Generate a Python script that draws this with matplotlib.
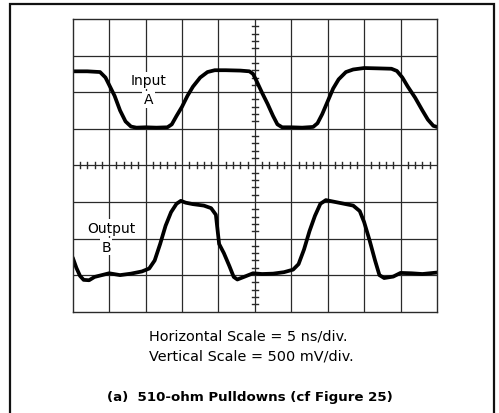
import matplotlib.pyplot as plt
from matplotlib.patches import Rectangle

# trace readings, in graticule divisions (x: 0-10, y: 0-8 from bottom)
input_x = [0, 0.4, 0.75, 0.9, 1.0, 1.15, 1.3, 1.45, 1.6, 1.75, 2.0, 2.3, 2.6, 2.72, 2.85,
           3.0, 3.15, 3.3, 3.5, 3.7, 3.9, 4.2, 4.6, 4.85, 4.95, 5.05, 5.2, 5.35, 5.5, 5.62,
           5.75, 6.0, 6.3, 6.6, 6.72, 6.85, 7.0, 7.15, 7.3, 7.5, 7.7, 8.0, 8.4, 8.75, 8.9,
           9.05, 9.2, 9.4, 9.6, 9.75, 9.9, 10.0]
input_y = [6.57, 6.57, 6.55, 6.4, 6.2, 5.9, 5.5, 5.2, 5.06, 5.03, 5.04, 5.03, 5.04, 5.12, 5.35,
           5.6, 5.9, 6.15, 6.4, 6.55, 6.6, 6.6, 6.59, 6.57, 6.5, 6.3, 5.98, 5.68, 5.35, 5.12,
           5.04, 5.04, 5.03, 5.05, 5.15, 5.4, 5.75, 6.1, 6.35, 6.55, 6.62, 6.66, 6.65, 6.64, 6.58,
           6.4, 6.15, 5.85, 5.5, 5.25, 5.08, 5.05]

output_x = [0, 0.1, 0.2, 0.3, 0.45, 0.6, 0.8, 1.0, 1.3, 1.6, 1.9, 2.1, 2.25, 2.4, 2.55, 2.7,
            2.85, 2.97, 3.1, 3.3, 3.6, 3.8, 3.93, 3.98, 4.02, 4.15, 4.3, 4.42, 4.52, 4.7, 4.95,
            5.2, 5.5, 5.8, 6.05, 6.2, 6.35, 6.5, 6.65, 6.8, 6.95, 7.1, 7.4, 7.7, 7.88, 8.0,
            8.15, 8.3, 8.42, 8.55, 8.8, 9.0, 9.3, 9.6, 10.0]
output_y = [1.48, 1.2, 0.98, 0.87, 0.86, 0.95, 1.0, 1.05, 1.0, 1.04, 1.1, 1.18, 1.4, 1.85, 2.35, 2.72,
            2.95, 3.03, 2.98, 2.94, 2.9, 2.83, 2.65, 2.2, 1.85, 1.6, 1.25, 0.95, 0.88, 0.95, 1.05,
            1.03, 1.04, 1.08, 1.15, 1.3, 1.7, 2.2, 2.62, 2.95, 3.05, 3.02, 2.96, 2.9, 2.75, 2.45,
            1.95, 1.4, 1.0, 0.92, 0.96, 1.06, 1.05, 1.03, 1.07]

scale_lines = ["Horizontal Scale = 5 ns/div.", "Vertical Scale = 500 mV/div."]
caption = "(a)  510-ohm Pulldowns (cf Figure 25)"

plt.rcParams["font.family"] = ["DejaVu Sans"]

fig = plt.figure(figsize=(4.99, 4.14), dpi=100)
fig.patches.append(Rectangle((10 / 499, -0.1), 484 / 499, 1.1 - 5 / 414,
                             transform=fig.transFigure, fill=False,
                             edgecolor="#111111", linewidth=1.6))

ax = fig.add_axes([0.1457, 0.2447, 0.730, 0.707])
ax.set_xlim(0, 10)
ax.set_ylim(0, 8)
ax.set_xticks([])
ax.set_yticks([])
for spine in ax.spines.values():
    spine.set_color("#2a2a2a")
    spine.set_linewidth(1.0)

# graticule
for gx in range(1, 10):
    ax.axvline(gx, color="#2a2a2a", linewidth=0.9)
for gy in range(1, 8):
    ax.axhline(gy, color="#2a2a2a", linewidth=0.9)

# minor ticks along the centre lines
for k in range(50):
    if k % 5 == 0:
        continue
    t = k * 0.2
    ax.plot([t, t], [3.92, 4.08], color="#2a2a2a", linewidth=1.0)
for k in range(40):
    if k % 5 == 0:
        continue
    t = k * 0.2
    ax.plot([4.92, 5.08], [t, t], color="#2a2a2a", linewidth=1.0)

ax.plot(input_x, input_y, color="black", linewidth=2.7, solid_capstyle="round")
ax.plot(output_x, output_y, color="black", linewidth=2.7, solid_capstyle="round")

box = dict(facecolor="white", edgecolor="none", pad=1)
ax.text(2.08, 6.32, "Input", ha="center", va="center", fontsize=10, bbox=box)
ax.text(2.08, 5.8, "A", ha="center", va="center", fontsize=10, bbox=box)
ax.text(1.07, 2.3, "Output", ha="center", va="center", fontsize=10, bbox=box)
ax.text(0.92, 1.78, "B", ha="center", va="center", fontsize=10, bbox=box)

fig.text(149 / 499, 1 - 337 / 414, scale_lines[0], ha="left", va="center", fontsize=10.4)
fig.text(149 / 499, 1 - 356 / 414, scale_lines[1], ha="left", va="center", fontsize=10.4)
fig.text(250 / 499, 1 - 398 / 414, caption, ha="center", va="center", fontsize=9.6,
         fontweight="bold")

fig.savefig("out.png", dpi=100)
